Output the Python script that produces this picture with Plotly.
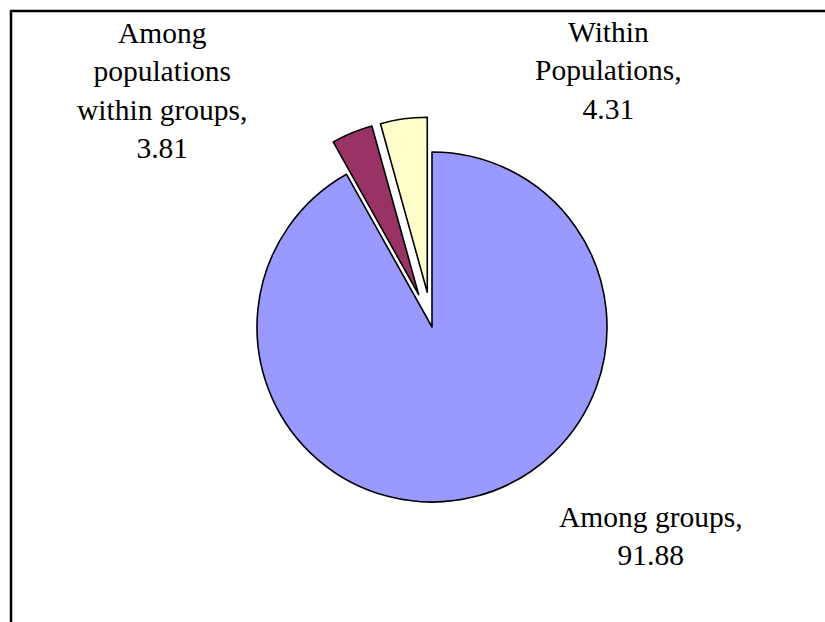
import plotly.graph_objects as go

# Variance components (%)
labels = ["Among groups", "Among populations within groups", "Within Populations"]
label_lines = ["Among groups,", "Among<br>populations<br>within groups,", "Within<br>Populations,"]
values = [91.88, 3.81, 4.31]
colors = ["#9999FF", "#993366", "#FFFFCC"]
pulls = [0, 0.2, 0.2]

W, H = 825, 622

fig = go.Figure(
    go.Pie(
        labels=labels,
        values=values,
        sort=False,
        direction="clockwise",
        rotation=0,
        pull=pulls,
        marker=dict(colors=colors, line=dict(color="black", width=1.6)),
        textinfo="none",
        hoverinfo="label+value",
        showlegend=False,
        domain=dict(x=[222 / W, 642 / W], y=[85 / H, 505 / H]),
    )
)

# label text positions (paper fractions)
label_pos = [(651 / W, 1 - 536 / H), (162 / W, 1 - 90 / H), (608 / W, 1 - 71 / H)]
for txt, v, (px, py) in zip(label_lines, values, label_pos):
    fig.add_annotation(
        x=px, y=py, xref="paper", yref="paper",
        text=f"{txt}<br>{v:.2f}",
        showarrow=False, align="center",
        xanchor="center", yanchor="middle",
        font=dict(family="Liberation Serif", size=29.5, color="black"),
    )

# chart frame
fig.add_shape(
    type="rect", xref="paper", yref="paper",
    x0=11 / W, x1=1.05, y0=-0.05, y1=1 - 11 / H,
    line=dict(color="black", width=2.5), fillcolor="rgba(0,0,0,0)",
)

fig.update_layout(
    width=W, height=H,
    margin=dict(l=0, r=0, t=0, b=0),
    paper_bgcolor="white", plot_bgcolor="white",
)

fig.write_html("out.html")
